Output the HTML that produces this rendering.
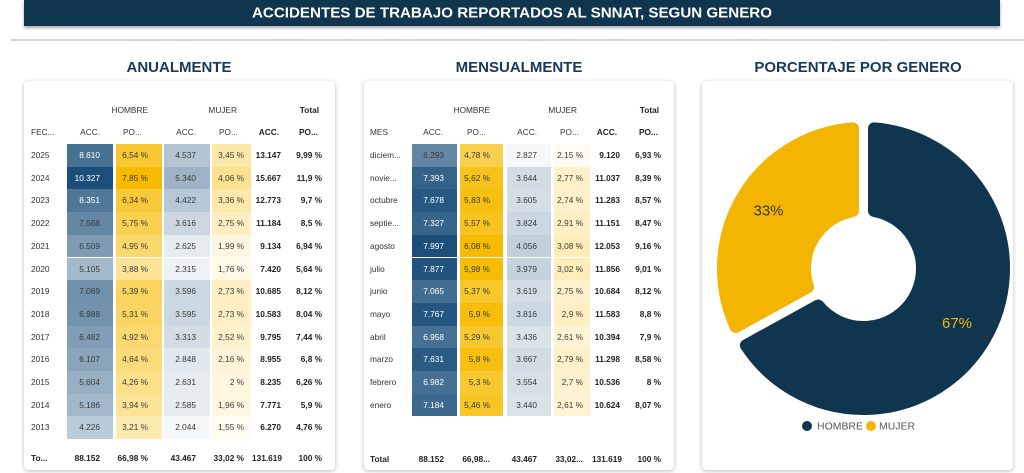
<!DOCTYPE html>
<html><head><meta charset="utf-8">
<style>
html,body{margin:0;padding:0;background:#fff;}
#p{position:relative;width:1024px;height:473px;overflow:hidden;background:#fff;font-family:"Liberation Sans",Arial,sans-serif;font-size:8.3px;color:#333;}
.bar{position:absolute;left:24px;top:0;width:976px;height:26px;background:#10354f;box-shadow:0 2px 3px rgba(0,0,0,0.35);}
.sep{position:absolute;left:11px;top:39px;width:1013px;height:2px;background:#d3d3d3;}
.card{position:absolute;top:81px;height:389px;background:#fff;border-radius:4px;box-shadow:0 1px 4px rgba(0,0,0,0.28);}
.t{position:absolute;height:12px;line-height:12px;white-space:nowrap;}
.rt{width:80px;text-align:right;}
.bd{font-weight:bold;color:#222;}
.r{position:absolute;left:0;width:1024px;height:22.7px;}
.r span{position:absolute;top:0;height:22.7px;line-height:22.7px;box-sizing:border-box;text-align:right;white-space:nowrap;color:#3a3a3a;}
.r span.w{color:#fff;}
.r span.y{text-align:left;color:#333;}
.r span.e,.r span.f{font-weight:bold;color:#222;}
.L .y{left:31px;width:40px;}
.L .a{left:67px;width:46px;padding-right:13px;}
.L .b{left:116px;width:46px;padding-right:14px;}
.L .c{left:164px;width:46px;padding-right:14px;}
.L .d{left:212px;width:39px;padding-right:7px;}
.L .e{left:230px;width:51px;}
.L .f{left:272px;width:50px;}
.M .y{left:370px;width:40px;}
.M .a{left:412px;width:45px;padding-right:13px;}
.M .b{left:460px;width:43px;padding-right:13px;}
.M .c{left:507px;width:44px;padding-right:14px;}
.M .d{left:554px;width:36px;padding-right:7px;}
.M .e{left:570px;width:50px;}
.M .f{left:611px;width:50px;}
svg{position:absolute;left:0;top:0;}
</style></head><body>
<div id="p">
<div class="bar"></div>
<div class="sep"></div>
<div class="card" style="left:24px;width:311px;"></div>
<div class="card" style="left:364px;width:310px;"></div>
<div class="card" style="left:702px;width:311px;"></div>

<svg width="1024" height="473" viewBox="0 0 1024 473">
<text x="512" y="17.5" text-anchor="middle" font-family="Liberation Sans, Arial, sans-serif" font-weight="bold" font-size="15" fill="#ffffff" textLength="520" lengthAdjust="spacingAndGlyphs">ACCIDENTES DE TRABAJO REPORTADOS AL SNNAT, SEGUN GENERO</text>
<text x="179" y="72" text-anchor="middle" font-family="Liberation Sans, Arial, sans-serif" font-weight="bold" font-size="15" fill="#17395a">ANUALMENTE</text>
<text x="519" y="72" text-anchor="middle" font-family="Liberation Sans, Arial, sans-serif" font-weight="bold" font-size="15" fill="#17395a">MENSUALMENTE</text>
<text x="858" y="72" text-anchor="middle" font-family="Liberation Sans, Arial, sans-serif" font-weight="bold" font-size="15" fill="#17395a">PORCENTAJE POR GENERO</text>
<path d="M874,128.39 A140.5,140.5 0 1 1 745.87,345.34 L818.17,305.48 A58.5,58.5 0 1 0 874,210.95 Z" fill="#10354f" stroke="#10354f" stroke-width="12" stroke-linejoin="round"/>
<path d="M735.73,326.95 A140.5,140.5 0 0 1 853,128.39 L853,210.95 A58.5,58.5 0 0 0 808.03,287.09 Z" fill="#f3b402" stroke="#f3b402" stroke-width="12" stroke-linejoin="round"/>
<text x="768.5" y="215.5" text-anchor="middle" font-family="Liberation Sans, Arial, sans-serif" font-size="15" fill="#3b3a36">33%</text>
<text x="957" y="328" text-anchor="middle" font-family="Liberation Sans, Arial, sans-serif" font-size="15" fill="#f3b402">67%</text>
<circle cx="807" cy="426" r="5" fill="#10354f"/>
<text x="817" y="429.5" font-family="Liberation Sans, Arial, sans-serif" font-size="10" fill="#555" textLength="46" lengthAdjust="spacingAndGlyphs">HOMBRE</text>
<circle cx="871" cy="426" r="5" fill="#f3b402"/>
<text x="879" y="429.5" font-family="Liberation Sans, Arial, sans-serif" font-size="10" fill="#555" textLength="36" lengthAdjust="spacingAndGlyphs">MUJER</text>
</svg>

<!-- LEFT TABLE headers -->
<div class="t rt" style="left:68px;top:104px;">HOMBRE</div>
<div class="t rt" style="left:157px;top:104px;">MUJER</div>
<div class="t rt bd" style="left:239px;top:104px;">Total</div>
<div class="t" style="left:31px;top:126px;">FEC...</div>
<div class="t rt" style="left:20px;top:126px;">ACC.</div>
<div class="t" style="left:123px;top:126px;">PO...</div>
<div class="t rt" style="left:116px;top:126px;">ACC.</div>
<div class="t" style="left:219px;top:126px;">PO...</div>
<div class="t rt bd" style="left:199px;top:126px;">ACC.</div>
<div class="t bd" style="left:299px;top:126px;">PO...</div>

<div class="L">
<div class="r" style="top:144px"><span class="y">2025</span><span class="a w" style="background:rgb(72,114,148)">8.610</span><span class="b" style="background:rgb(248,200,50)">6,54 %</span><span class="c" style="background:rgb(179,196,211)">4.537</span><span class="d" style="background:rgb(252,232,168)">3,45 %</span><span class="e">13.147</span><span class="f">9,99 %</span></div>
<div class="r" style="top:166.7px"><span class="y">2024</span><span class="a w" style="background:rgb(27,79,122)">10.327</span><span class="b" style="background:rgb(246,187,0)">7,85 %</span><span class="c" style="background:rgb(158,180,198)">5.340</span><span class="d" style="background:rgb(251,226,144)">4,06 %</span><span class="e">15.667</span><span class="f">11,9 %</span></div>
<div class="r" style="top:189.4px"><span class="y">2023</span><span class="a w" style="background:rgb(79,119,152)">8.351</span><span class="b" style="background:rgb(248,202,58)">6,34 %</span><span class="c" style="background:rgb(182,199,213)">4.422</span><span class="d" style="background:rgb(252,233,171)">3,36 %</span><span class="e">12.773</span><span class="f">9,7 %</span></div>
<div class="r" style="top:212.1px"><span class="y">2022</span><span class="a" style="background:rgb(100,135,164)">7.568</span><span class="b" style="background:rgb(249,208,80)">5,75 %</span><span class="c" style="background:rgb(204,215,225)">3.616</span><span class="d" style="background:rgb(253,239,194)">2,75 %</span><span class="e">11.184</span><span class="f">8,5 %</span></div>
<div class="r" style="top:234.8px"><span class="y">2021</span><span class="a" style="background:rgb(128,156,181)">6.509</span><span class="b" style="background:rgb(250,216,110)">4,95 %</span><span class="c" style="background:rgb(230,235,240)">2.625</span><span class="d" style="background:rgb(254,247,223)">1,99 %</span><span class="e">9.134</span><span class="f">6,94 %</span></div>
<div class="r" style="top:257.5px"><span class="y">2020</span><span class="a" style="background:rgb(164,185,202)">5.105</span><span class="b" style="background:rgb(252,227,151)">3,88 %</span><span class="c" style="background:rgb(238,242,245)">2.315</span><span class="d" style="background:rgb(255,249,232)">1,76 %</span><span class="e">7.420</span><span class="f">5,64 %</span></div>
<div class="r" style="top:280.2px"><span class="y">2019</span><span class="a" style="background:rgb(112,145,172)">7.089</span><span class="b" style="background:rgb(250,212,94)">5,39 %</span><span class="c" style="background:rgb(204,216,225)">3.596</span><span class="d" style="background:rgb(253,239,195)">2,73 %</span><span class="e">10.685</span><span class="f">8,12 %</span></div>
<div class="r" style="top:302.9px"><span class="y">2018</span><span class="a" style="background:rgb(115,147,173)">6.988</span><span class="b" style="background:rgb(250,213,97)">5,31 %</span><span class="c" style="background:rgb(204,216,225)">3.595</span><span class="d" style="background:rgb(253,239,195)">2,73 %</span><span class="e">10.583</span><span class="f">8,04 %</span></div>
<div class="r" style="top:325.6px"><span class="y">2017</span><span class="a" style="background:rgb(128,157,181)">6.482</span><span class="b" style="background:rgb(250,217,112)">4,92 %</span><span class="c" style="background:rgb(212,221,230)">3.313</span><span class="d" style="background:rgb(254,241,203)">2,52 %</span><span class="e">9.795</span><span class="f">7,44 %</span></div>
<div class="r" style="top:348.3px"><span class="y">2016</span><span class="a" style="background:rgb(138,165,187)">6.107</span><span class="b" style="background:rgb(251,220,122)">4,64 %</span><span class="c" style="background:rgb(224,231,237)">2.848</span><span class="d" style="background:rgb(254,245,217)">2,16 %</span><span class="e">8.955</span><span class="f">6,8 %</span></div>
<div class="r" style="top:371px"><span class="y">2015</span><span class="a" style="background:rgb(151,175,194)">5.604</span><span class="b" style="background:rgb(251,223,137)">4,26 %</span><span class="c" style="background:rgb(230,235,240)">2.631</span><span class="d" style="background:rgb(254,246,223)">2 %</span><span class="e">8.235</span><span class="f">6,26 %</span></div>
<div class="r" style="top:393.7px"><span class="y">2014</span><span class="a" style="background:rgb(162,183,201)">5.186</span><span class="b" style="background:rgb(252,227,149)">3,94 %</span><span class="c" style="background:rgb(231,236,241)">2.585</span><span class="d" style="background:rgb(254,247,224)">1,96 %</span><span class="e">7.771</span><span class="f">5,9 %</span></div>
<div class="r" style="top:416.4px"><span class="y">2013</span><span class="a" style="background:rgb(188,203,216)">4.226</span><span class="b" style="background:rgb(253,234,177)">3,21 %</span><span class="c" style="background:rgb(245,247,249)">2.044</span><span class="d" style="background:rgb(255,251,240)">1,55 %</span><span class="e">6.270</span><span class="f">4,76 %</span></div>
</div>

<!-- LEFT totals -->
<div class="t bd" style="left:31px;top:452px;">To...</div>
<div class="t rt bd" style="left:20px;top:452px;">88.152</div>
<div class="t rt bd" style="left:68px;top:452px;">66,98 %</div>
<div class="t rt bd" style="left:116px;top:452px;">43.467</div>
<div class="t rt bd" style="left:164px;top:452px;">33,02 %</div>
<div class="t rt bd" style="left:202px;top:452px;">131.619</div>
<div class="t rt bd" style="left:242px;top:452px;">100 %</div>

<!-- MIDDLE TABLE headers -->
<div class="t rt" style="left:410px;top:104px;">HOMBRE</div>
<div class="t rt" style="left:497px;top:104px;">MUJER</div>
<div class="t rt bd" style="left:579px;top:104px;">Total</div>
<div class="t" style="left:370px;top:126px;">MES</div>
<div class="t rt" style="left:363px;top:126px;">ACC.</div>
<div class="t" style="left:467px;top:126px;">PO...</div>
<div class="t rt" style="left:457px;top:126px;">ACC.</div>
<div class="t" style="left:560px;top:126px;">PO...</div>
<div class="t rt bd" style="left:537px;top:126px;">ACC.</div>
<div class="t bd" style="left:639px;top:126px;">PO...</div>

<div class="M">
<div class="r" style="top:144px"><span class="y">diciem...</span><span class="a" style="background:rgb(99,134,164)">6.293</span><span class="b" style="background:rgb(249,208,79)">4,78 %</span><span class="c" style="background:rgb(245,247,249)">2.827</span><span class="d" style="background:rgb(255,251,240)">2,15 %</span><span class="e">9.120</span><span class="f">6,93 %</span></div>
<div class="r" style="top:166.7px"><span class="y">novie...</span><span class="a w" style="background:rgb(52,99,137)">7.393</span><span class="b" style="background:rgb(247,194,28)">5,62 %</span><span class="c" style="background:rgb(211,220,229)">3.644</span><span class="d" style="background:rgb(254,241,202)">2,77 %</span><span class="e">11.037</span><span class="f">8,39 %</span></div>
<div class="r" style="top:189.4px"><span class="y">octubre</span><span class="a w" style="background:rgb(40,89,130)">7.678</span><span class="b" style="background:rgb(247,191,15)">5,83 %</span><span class="c" style="background:rgb(212,222,230)">3.605</span><span class="d" style="background:rgb(254,241,204)">2,74 %</span><span class="e">11.283</span><span class="f">8,57 %</span></div>
<div class="r" style="top:212.1px"><span class="y">septie...</span><span class="a w" style="background:rgb(55,101,138)">7.327</span><span class="b" style="background:rgb(247,195,31)">5,57 %</span><span class="c" style="background:rgb(203,215,225)">3.824</span><span class="d" style="background:rgb(253,239,194)">2,91 %</span><span class="e">11.151</span><span class="f">8,47 %</span></div>
<div class="r" style="top:234.8px"><span class="y">agosto</span><span class="a w" style="background:rgb(27,79,122)">7.997</span><span class="b" style="background:rgb(246,187,0)">6,08 %</span><span class="c" style="background:rgb(193,207,219)">4.056</span><span class="d" style="background:rgb(253,236,183)">3,08 %</span><span class="e">12.053</span><span class="f">9,16 %</span></div>
<div class="r" style="top:257.5px"><span class="y">julio</span><span class="a w" style="background:rgb(32,83,125)">7.877</span><span class="b" style="background:rgb(246,189,6)">5,98 %</span><span class="c" style="background:rgb(196,210,221)">3.979</span><span class="d" style="background:rgb(253,237,187)">3,02 %</span><span class="e">11.856</span><span class="f">9,01 %</span></div>
<div class="r" style="top:280.2px"><span class="y">junio</span><span class="a w" style="background:rgb(66,109,145)">7.065</span><span class="b" style="background:rgb(248,199,43)">5,37 %</span><span class="c" style="background:rgb(212,221,230)">3.619</span><span class="d" style="background:rgb(254,241,203)">2,75 %</span><span class="e">10.684</span><span class="f">8,12 %</span></div>
<div class="r" style="top:302.9px"><span class="y">mayo</span><span class="a w" style="background:rgb(37,86,128)">7.767</span><span class="b" style="background:rgb(246,190,11)">5,9 %</span><span class="c" style="background:rgb(203,215,225)">3.816</span><span class="d" style="background:rgb(253,239,194)">2,9 %</span><span class="e">11.583</span><span class="f">8,8 %</span></div>
<div class="r" style="top:325.6px"><span class="y">abril</span><span class="a w" style="background:rgb(71,113,148)">6.958</span><span class="b" style="background:rgb(248,200,48)">5,29 %</span><span class="c" style="background:rgb(219,227,234)">3.436</span><span class="d" style="background:rgb(254,244,212)">2,61 %</span><span class="e">10.394</span><span class="f">7,9 %</span></div>
<div class="r" style="top:348.3px"><span class="y">marzo</span><span class="a w" style="background:rgb(42,91,131)">7.631</span><span class="b" style="background:rgb(247,192,17)">5,8 %</span><span class="c" style="background:rgb(210,220,228)">3.667</span><span class="d" style="background:rgb(254,241,201)">2,79 %</span><span class="e">11.298</span><span class="f">8,58 %</span></div>
<div class="r" style="top:371px"><span class="y">febrero</span><span class="a w" style="background:rgb(70,112,147)">6.982</span><span class="b" style="background:rgb(248,200,48)">5,3 %</span><span class="c" style="background:rgb(214,223,231)">3.554</span><span class="d" style="background:rgb(254,242,206)">2,7 %</span><span class="e">10.536</span><span class="f">8 %</span></div>
<div class="r" style="top:393.7px"><span class="y">enero</span><span class="a w" style="background:rgb(61,105,142)">7.184</span><span class="b" style="background:rgb(247,197,38)">5,46 %</span><span class="c" style="background:rgb(219,227,234)">3.440</span><span class="d" style="background:rgb(254,244,212)">2,61 %</span><span class="e">10.624</span><span class="f">8,07 %</span></div>
</div>

<!-- MIDDLE totals -->
<div class="t bd" style="left:370px;top:453px;">Total</div>
<div class="t rt bd" style="left:364px;top:453px;">88.152</div>
<div class="t rt bd" style="left:410px;top:453px;">66,98...</div>
<div class="t rt bd" style="left:457px;top:453px;">43.467</div>
<div class="t rt bd" style="left:503px;top:453px;">33,02...</div>
<div class="t rt bd" style="left:542px;top:453px;">131.619</div>
<div class="t rt bd" style="left:581px;top:453px;">100 %</div>
</div>
</body></html>
